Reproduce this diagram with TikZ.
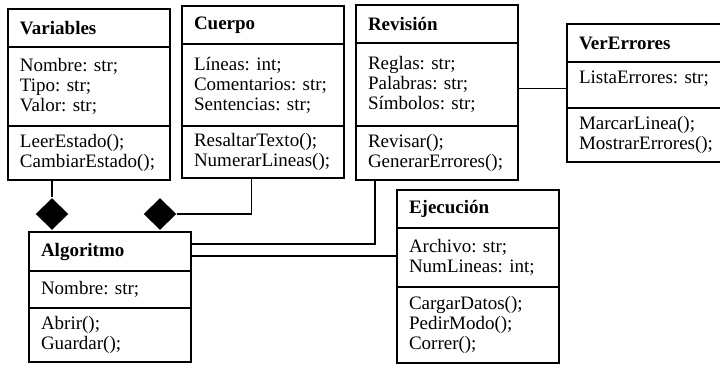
\documentclass[tikz,border=0pt]{standalone}
\usepackage{fontspec}
\setmainfont{Liberation Serif}
\usetikzlibrary{shapes.geometric, positioning}

\begin{document}
\frenchspacing
\begin{tikzpicture}[
    x=0.6pt, y=-0.6pt,
    line width=0.7pt,
    every node/.style={font=\fontsize{11.4}{12}\selectfont},
    classtitle/.style={rectangle, draw, anchor=north west, outer sep=0pt, inner xsep=7.2pt, inner ysep=0pt, text width=82.8pt, align=left, minimum height=22.8pt, font=\fontsize{11.4}{12}\selectfont\bfseries},
    classpart/.style={rectangle, draw, outer sep=0pt, inner xsep=7.2pt, inner ysep=0pt, text width=82.8pt, align=left},
    comp/.style={diamond, fill=black, inner sep=0pt, minimum width=19.8pt, minimum height=19.2pt}
]
    \useasboundingbox (0,0) rectangle (720,364);
    \clip (0,0) rectangle (720,364);

    % Classes
    \node (vartit) [classtitle] at (8,9) {Variables};
    \node (varattr) [classpart, minimum height=47.4pt, below=0pt of vartit] {Nombre: str;\\Tipo: str;\\Valor: str;};
    \node (varmeth) [classpart, minimum height=32.4pt, below=0pt of varattr] {LeerEstado();\\CambiarEstado();};

    \node (cuetit) [classtitle] at (182,6) {Cuerpo};
    \node (cueattr) [classpart, minimum height=49.2pt, below=0pt of cuetit] {Líneas: int;\\Comentarios: str;\\Sentencias: str;};
    \node (cuemeth) [classpart, minimum height=31.2pt, below=0pt of cueattr] {ResaltarTexto();\\NumerarLineas();};

    \node (revtit) [classtitle] at (356,5) {Revisión};
    \node (revattr) [classpart, minimum height=49.8pt, below=0pt of revtit] {Reglas: str;\\Palabras: str;\\Símbolos: str;};
    \node (revmeth) [classpart, minimum height=32.4pt, below=0pt of revattr] {Revisar();\\GenerarErrores();};

    \node (vertit) [classtitle] at (567,24) {VerErrores};
    \node (verattr) [classpart, minimum height=27.6pt, below=0pt of vertit] {ListaErrores: str;\\[-6pt] \strut};
    \node (vermeth) [classpart, minimum height=32.4pt, below=0pt of verattr] {MarcarLinea();\\MostrarErrores();};

    \node (algtit) [classtitle, minimum height=23.4pt] at (29,232) {Algoritmo};
    \node (algattr) [classpart, minimum height=22.2pt, below=0pt of algtit] {Nombre: str;};
    \node (algmeth) [classpart, minimum height=32.4pt, below=0pt of algattr] {Abrir();\\Guardar();};

    \node (ejetit) [classtitle] at (397,190) {Ejecución};
    \node (ejeattr) [classpart, minimum height=35.4pt, below=0pt of ejetit] {Archivo: str;\\NumLineas: int;};
    \node (ejemeth) [classpart, minimum height=45.6pt, below=0pt of ejeattr] {CargarDatos();\\PedirModo();\\Correr();};

    % Composition diamonds
    \node (comp1) [comp] at (52,214) {};
    \node (comp2) [comp] at (160,214) {};

    % Connectors
    \draw (comp1.north) -- (comp1.north |- varmeth.south);
    \draw (comp2.east) -| ([xshift=-6.9pt]cuemeth.south);
    \draw ([yshift=4.5pt]algtit.east) -| ([xshift=11.4pt]revmeth.south west);
    \draw ([yshift=-2.7pt]algtit.east) -- ([yshift=-2.7pt]algtit.east -| ejeattr.west);
    \draw ([yshift=-2.4pt]revattr.east) -- ([yshift=-2.4pt]revattr.east -| verattr.west);

\end{tikzpicture}
\end{document}
